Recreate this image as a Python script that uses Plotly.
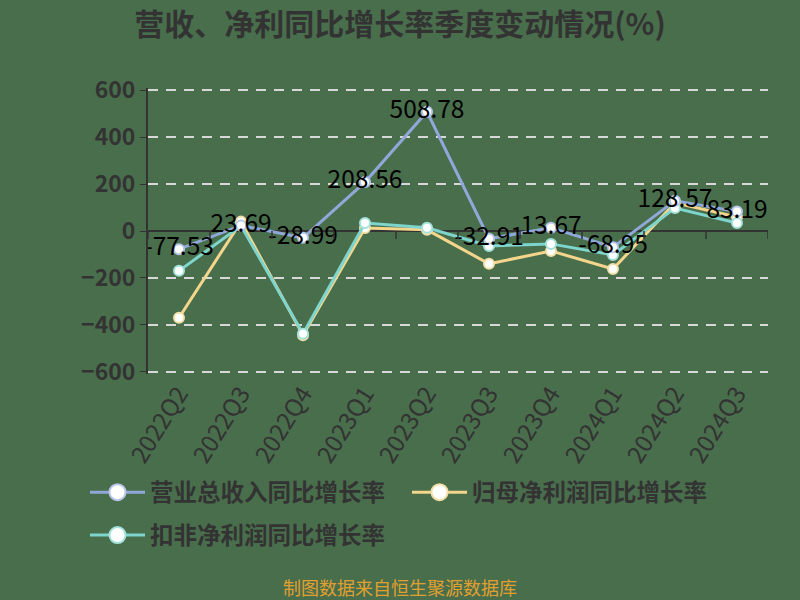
import plotly.graph_objects as go

quarters = ["2022Q2", "2022Q3", "2022Q4", "2023Q1", "2023Q2", "2023Q3", "2023Q4", "2024Q1", "2024Q2", "2024Q3"]
revenue_yoy = [-77.53, 23.69, -28.99, 208.56, 508.78, -32.91, 13.67, -68.95, 128.57, 83.19]
net_profit_yoy = [-370, 40, -445, 13, 5, -140, -85, -162, 120, 60]
deducted_profit_yoy = [-170, 22, -438, 34, 14, -64, -55, -102, 98, 34]
y_ticks = [-600, -400, -200, 0, 200, 400, 600]

names = ["营业总收入同比增长率", "归母净利润同比增长率", "扣非净利润同比增长率"]
line_colors = ["#8fa8d8", "#f3d58c", "#7dd5ce"]
marker_lines = ["#b9c6e6", "#f3dfa8", "#a4e2dc"]

FONT = "Noto Sans CJK SC"
BG = "#496e4c"
TXT = "#333333"

fig = go.Figure()
series = [revenue_yoy, net_profit_yoy, deducted_profit_yoy]
order = [1, 2, 0]  # draw revenue on top
for i in order:
    fig.add_trace(go.Scatter(
        x=quarters, y=series[i], name=names[i], mode="lines+markers",
        line=dict(color=line_colors[i], width=3),
        marker=dict(symbol="circle", size=10, color="white",
                    line=dict(color=marker_lines[i], width=2)),
        showlegend=False, hoverinfo="skip",
    ))

# data labels on revenue series
fig.add_trace(go.Scatter(
    x=quarters, y=revenue_yoy, mode="text",
    text=[f"{v:.2f}" for v in revenue_yoy],
    textposition="middle center",
    textfont=dict(family=FONT, size=24.5, color="#000000"),
    showlegend=False, hoverinfo="skip",
))

# legend entries (two legends to control row placement)
legend_of = ["legend", "legend", "legend2"]
for i in range(3):
    fig.add_trace(go.Scatter(
        x=[None], y=[None], name=names[i], mode="lines+markers",
        line=dict(color=line_colors[i], width=3),
        marker=dict(symbol="circle", size=22, color="white",
                    line=dict(color=marker_lines[i], width=2)),
        showlegend=True, legend=legend_of[i],
    ))

# plot area: value 600 at y=90px, -600 at y=372px; range padded so edge gridlines draw
YR = 610
ppu = 282 / 1200
top = 90 - (YR - 600) * ppu
bot = 600 - (372 + (YR - 600) * ppu)

leg_font = dict(family=FONT, size=23.5, color=TXT, weight="bold")
leg_x = (85 - 148) / 620
fig.update_layout(
    width=800, height=600,
    paper_bgcolor=BG, plot_bgcolor=BG,
    margin=dict(l=148, r=32, t=top, b=bot),
    font=dict(family=FONT, color=TXT),
    title=dict(text="营收、净利同比增长率季度变动情况(%)", x=0.5, xanchor="center",
               y=0.959, yanchor="middle",
               font=dict(family=FONT, size=30, color=TXT, weight="bold")),
    legend=dict(orientation="h", x=leg_x, xanchor="left", yanchor="middle",
                font=leg_font, bgcolor="rgba(0,0,0,0)", entrywidth=252,
                entrywidthmode="pixels", itemwidth=55),
    legend2=dict(orientation="h", x=leg_x, xanchor="left", yanchor="middle",
                 font=leg_font, bgcolor="rgba(0,0,0,0)", itemwidth=55),
    showlegend=True,
)
plot_h = 600 - top - bot
fig.layout.legend.y = ((600 - bot) - 493) / plot_h
fig.layout.legend2.y = ((600 - bot) - 536) / plot_h

fig.update_xaxes(
    type="category", range=[-0.5, 9.5], tickangle=-58,
    tickfont=dict(family=FONT, size=24, color=TXT),
    showgrid=False, showline=False, zeroline=False, ticks="",
)
fig.update_yaxes(
    range=[-YR, YR], tickvals=y_ticks,
    tickfont=dict(family=FONT, size=23, color=TXT, weight="bold"),
    showgrid=True, gridcolor="#d8d8d8", griddash="10px,8px", gridwidth=1.5,
    zeroline=True, zerolinecolor=TXT, zerolinewidth=2,
    showline=True, linecolor=TXT, linewidth=2,
    ticks="outside", ticklen=6, tickcolor=TXT,
)

# tick marks at category boundaries on zero line
for k in range(11):
    fig.add_shape(type="line", xref="x", yref="y", x0=k - 0.5, x1=k - 0.5, y0=0, y1=-34,
                  line=dict(color=TXT, width=1.5))

fig.add_annotation(text="制图数据来自恒生聚源数据库", xref="paper", yref="paper",
                   x=(400 - 148) / 620, y=((600 - bot) - 588) / plot_h,
                   xanchor="center", yanchor="middle",
                   showarrow=False, font=dict(family=FONT, size=18, color="#e0a030"))

fig.write_html("out.html", config={"displayModeBar": False},
               post_script="document.body.style.margin='0';")
